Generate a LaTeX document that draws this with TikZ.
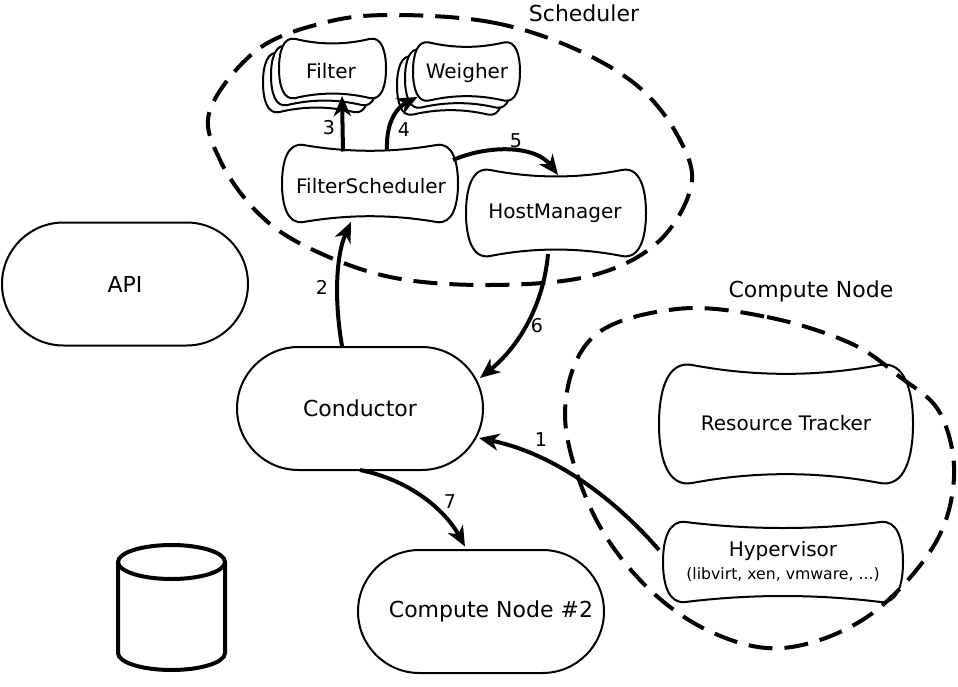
\documentclass[tikz,border=0pt]{standalone}
\usepackage{fontspec}
\setmainfont{DejaVu Sans}
\usetikzlibrary{arrows.meta,shapes.misc,calc}

% bone-like outline: [options] cx, cy, width, height
\newcommand\drawbone[5][]{%
 \pgfmathsetmacro\bL{#2-#4/2}\pgfmathsetmacro\bR{#2+#4/2}%
 \pgfmathsetmacro\bT{#3-#5/2}\pgfmathsetmacro\bB{#3+#5/2}%
 \pgfmathsetmacro\bk{0.28*#5}%
 \pgfmathsetmacro\ba{(#4-2*\bk)/3}%
 \pgfmathsetmacro\bd{0.1*#5}%
 \pgfmathsetmacro\bs{0.75*\bk}%
 \pgfmathsetmacro\bsy{\bs*\bd/\ba}%
 \pgfmathsetmacro\bv{0.22*#5}%
 \draw[outline,#1] ({\bL+\bk},{\bT})
   .. controls ({\bL+\bk+\ba},{\bT+\bd}) and ({\bR-\bk-\ba},{\bT+\bd}) .. ({\bR-\bk},{\bT})
   .. controls ({\bR-\bk+\bs},{\bT-\bsy}) and ({\bR},{\bT+\bv}) .. ({\bR},{#3})
   .. controls ({\bR},{\bB-\bv}) and ({\bR-\bk+\bs},{\bB+\bsy}) .. ({\bR-\bk},{\bB})
   .. controls ({\bR-\bk-\ba},{\bB-\bd}) and ({\bL+\bk+\ba},{\bB-\bd}) .. ({\bL+\bk},{\bB})
   .. controls ({\bL+\bk-\bs},{\bB+\bsy}) and ({\bL},{\bB-\bv}) .. ({\bL},{#3})
   .. controls ({\bL},{\bT+\bv}) and ({\bL+\bk-\bs},{\bT-\bsy}) .. ({\bL+\bk},{\bT}) -- cycle;}
\newcommand\smalltext{\fontsize{15.7}{18}\selectfont}

\tikzset{
 stadium/.style={draw, line width=2pt, rounded rectangle, minimum width=246pt, minimum height=123pt, inner sep=0pt, font=\fontsize{22}{26}\selectfont},
 boxtext/.style={inner sep=0pt, font=\fontsize{20}{24}\selectfont},
 flow/.style={line width=4pt, -{Stealth[length=20pt,width=17pt,inset=6pt]}},
 num/.style={font=\fontsize{19}{22}\selectfont, inner sep=0pt},
 grouptitle/.style={font=\fontsize{22}{26}\selectfont, inner sep=0pt},
 group/.style={line width=4pt, dash pattern=on 24pt off 12pt},
 outline/.style={line width=2pt, line join=round},
}

\begin{document}
\begin{tikzpicture}[x=1pt,y=-1pt]
\useasboundingbox (0,0) rectangle (958,687);

% group outlines
\draw[group] plot[smooth cycle, tension=0.6] coordinates {
 (390,15) (490,22) (573,48) (640,88) (680,140) (691,187) (657,243) (590,276)
 (490,285) (390,277) (307,247) (257,212) (220,160) (210,110) (257,50) (323,23)};
\draw[group] plot[smooth cycle, tension=0.6] coordinates {
 (677,309) (767,317) (850,343) (900,377) (940,413) (954,477) (933,547) (867,617)
 (783,648) (707,630) (640,580) (590,507) (565,413) (593,337)};

\node[grouptitle] (schedlbl) at (584,13) {Scheduler};
\node[grouptitle] (cnlbl) at (811,291) {Compute Node};

% stadium nodes
\node[stadium] (api) at (125,284) {API};
\node[stadium] (cond) at (360,408.5) {Conductor};
\node[stadium] (cn2) at (481,611.5) {\hspace*{20pt}Compute Node \#2};

% bone shaped nodes
\drawbone[fill=white]{316.5}{82.5}{107}{59}
\drawbone[fill=white]{324.5}{75.5}{107}{59}
\drawbone[fill=white]{332.5}{68.5}{107}{59}
\node[boxtext] (filt) at (331,71) {Filter};

\drawbone[fill=white]{450.5}{85.5}{107}{58}
\drawbone[fill=white]{458.5}{78.5}{107}{58}
\drawbone[fill=white]{466.5}{71.5}{107}{58}
\node[boxtext] (weigh) at (467,73) {Weigher};

\drawbone{370}{183.5}{176}{77}
\node[boxtext] (fs) at (371,186) {FilterScheduler};

\drawbone{556}{213}{180}{86}
\node[boxtext] (hm) at (555,213) {HostManager};

\drawbone{786}{424}{254}{118}
\node[boxtext] (rt) at (786,423) {Resource Tracker};

\drawbone{783}{562}{240}{80}
\node[boxtext, align=center] (hyp) at (783,561) {Hypervisor\\[-1pt]{\smalltext (libvirt, xen, vmware, ...)}};

% database cylinder
\draw[line width=4pt] (118,562) -- (118,653) arc[start angle=180, end angle=360, x radius=53.5, y radius=-17] -- (225,562);
\draw[line width=4pt] (171.5,562) ellipse [x radius=53.5, y radius=17];

% connectors
\draw[flow] ($(fs)+(-28,-34.5)$) -- ($(filt)+(11,25)$);
\draw[flow] ($(fs)+(16,-36.5)$) .. controls (386,120) and (398,107) .. ($(weigh)+(-49.5,24)$);
\draw[flow] ($(fs)+(82,-26)$) .. controls (490,144) and (536,146) .. ($(hm)+(3,-38)$);
\draw[flow] ($(cond)+(-18,-62.5)$) .. controls (334,300) and (336,255) .. ($(fs)+(-20,36)$);
\draw[flow] ($(hm)+(-7,41)$) .. controls (543,310) and (515,350) .. ($(cond)+(120,-30.5)$);
\draw[flow] ($(hyp)+(-124,-11)$) .. controls (620,505) and (560,455) .. ($(cond)+(119,29.5)$);
\draw[flow] ($(cond)+(0,61.5)$) .. controls (410,480) and (445,510) .. ($(cn2)+(-16,-65)$);

% step numbers
\node[num] (n1) at (541,440) {1};
\node[num] (n2) at (322,287) {2};
\node[num] (n3) at (329,128) {3};
\node[num] (n4) at (404,130) {4};
\node[num] (n5) at (516,141) {5};
\node[num] (n6) at (537,326) {6};
\node[num] (n7) at (450,502) {7};
\end{tikzpicture}
\end{document}
